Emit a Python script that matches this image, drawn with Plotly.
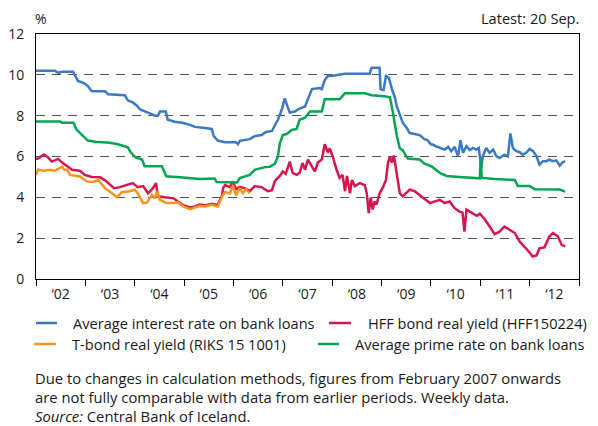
import plotly.graph_objects as go

# ---------------- data (decimal years, percent) ----------------
blue_x = [2002.00, 2002.38, 2002.45, 2002.53, 2002.75, 2002.85, 2002.97, 2003.05, 2003.13, 2003.40,
          2003.46, 2003.80, 2003.86, 2003.96, 2004.04, 2004.11, 2004.27, 2004.41, 2004.47, 2004.51,
          2004.63, 2004.67, 2004.81, 2004.96, 2005.12, 2005.22, 2005.42, 2005.56, 2005.60, 2005.68,
          2005.83, 2006.05, 2006.09, 2006.13, 2006.33, 2006.43, 2006.57, 2006.66, 2006.78, 2006.84,
          2006.90, 2006.98, 2007.04, 2007.08, 2007.14, 2007.24, 2007.34, 2007.45, 2007.51, 2007.59,
          2007.75, 2007.79, 2007.85, 2007.91, 2008.05, 2008.26, 2008.76, 2008.80, 2008.96, 2008.98,
          2009.04, 2009.09, 2009.15, 2009.21, 2009.27, 2009.31, 2009.37, 2009.43, 2009.51, 2009.57,
          2009.67, 2009.77, 2009.87, 2009.93, 2010.00, 2010.05, 2010.10, 2010.18, 2010.28, 2010.35,
          2010.41, 2010.48, 2010.55, 2010.60, 2010.65, 2010.72, 2010.79, 2010.85, 2010.92, 2010.97,
          2011.02, 2011.05, 2011.12, 2011.19, 2011.26, 2011.33, 2011.39, 2011.49, 2011.56, 2011.61,
          2011.66, 2011.73, 2011.80, 2011.86, 2011.93, 2012.00, 2012.07, 2012.14, 2012.20, 2012.27,
          2012.34, 2012.40, 2012.47, 2012.54, 2012.61, 2012.67, 2012.72]
blue_y = [10.2, 10.2, 10.1, 10.15, 10.15, 9.7, 9.6, 9.45, 9.2, 9.2,
          9.05, 9.0, 8.75, 8.65, 8.5, 8.3, 8.15, 8.0, 8.0, 8.2,
          8.2, 7.8, 7.7, 7.65, 7.55, 7.45, 7.4, 7.35, 7.0, 6.78,
          6.7, 6.7, 6.6, 6.77, 6.85, 7.0, 7.05, 7.2, 7.25, 7.5,
          7.8, 8.3, 8.85, 8.55, 8.15, 8.2, 8.35, 8.45, 8.8, 9.3,
          9.35, 9.3, 9.75, 9.93, 9.97, 10.05, 10.05, 10.35, 10.35, 9.3,
          9.25, 9.95, 9.85, 9.3, 8.9, 8.45, 8.05, 7.65, 7.4, 7.15,
          7.1, 7.05, 6.85, 6.8, 6.6, 6.58, 6.5, 6.42, 6.34, 6.47,
          6.26, 6.47, 6.01, 6.80, 6.18, 6.50, 6.31, 6.42, 6.34, 6.42,
          5.44, 6.01, 6.42, 6.18, 6.34, 6.01, 5.93, 6.09, 6.01, 7.13,
          6.42, 6.26, 6.21, 6.09, 6.18, 6.37, 6.26, 6.01, 5.60, 5.77,
          5.77, 5.85, 5.77, 5.81, 5.55, 5.72, 5.77]

hff_x = [2002.00, 2002.04, 2002.16, 2002.24, 2002.32, 2002.45, 2002.53, 2002.65, 2002.73, 2002.89,
         2002.99, 2003.13, 2003.30, 2003.42, 2003.58, 2003.70, 2003.86, 2003.96, 2004.06, 2004.17,
         2004.27, 2004.37, 2004.43, 2004.47, 2004.61, 2004.79, 2004.87, 2004.98, 2005.12, 2005.22,
         2005.32, 2005.42, 2005.56, 2005.68, 2005.77, 2005.79, 2005.83, 2005.93, 2005.99, 2006.05,
         2006.13, 2006.23, 2006.33, 2006.43, 2006.57, 2006.70, 2006.78, 2006.84, 2006.94, 2007.00,
         2007.06, 2007.14, 2007.20, 2007.28, 2007.34, 2007.40, 2007.45, 2007.51, 2007.59, 2007.65,
         2007.71, 2007.79, 2007.85, 2007.91, 2007.95, 2008.01, 2008.09, 2008.15, 2008.21, 2008.26,
         2008.30, 2008.36, 2008.40, 2008.46, 2008.56, 2008.66, 2008.70, 2008.74, 2008.78, 2008.82,
         2008.86, 2008.90, 2008.96, 2009.02, 2009.09, 2009.13, 2009.17, 2009.21, 2009.25, 2009.29,
         2009.33, 2009.37, 2009.43, 2009.57, 2009.67, 2009.77, 2009.87, 2009.98, 2010.08, 2010.18,
         2010.28, 2010.38, 2010.48, 2010.58, 2010.64, 2010.68, 2010.72, 2010.83, 2010.93, 2010.99,
         2011.09, 2011.19, 2011.29, 2011.39, 2011.49, 2011.60, 2011.70, 2011.80, 2011.90, 2012.00,
         2012.06, 2012.14, 2012.20, 2012.30, 2012.40, 2012.47, 2012.57, 2012.65, 2012.72]
hff_y = [5.88, 5.9, 6.1, 5.97, 5.75, 5.88, 5.7, 5.5, 5.35, 5.3,
         5.1, 5.0, 4.98, 4.8, 4.45, 4.5, 4.6, 4.7, 4.5, 4.55,
         4.2, 4.45, 4.7, 4.05, 4.0, 3.95, 3.8, 3.62, 3.5, 3.55,
         3.65, 3.6, 3.68, 3.62, 4.1, 4.45, 4.6, 4.5, 4.78, 4.4,
         4.5, 4.45, 4.3, 4.55, 4.5, 4.3, 4.35, 4.8, 5.05, 5.27,
         5.15, 5.75, 5.2, 5.1, 5.2, 5.68, 5.35, 5.85, 5.5, 5.27,
         5.7, 5.85, 6.6, 6.2, 6.4, 6.0, 5.35, 4.95, 5.1, 4.3,
         5.05, 4.2, 4.85, 4.55, 4.7, 4.6, 4.2, 3.23, 4.0, 3.4,
         3.8, 3.65, 4.2, 4.45, 4.85, 5.68, 6.0, 5.7, 6.05, 5.5,
         4.78, 4.2, 4.05, 4.38, 4.3, 4.12, 3.92, 3.72, 3.8, 3.88,
         3.72, 3.8, 3.47, 3.3, 3.25, 2.32, 3.4, 3.23, 3.1, 3.2,
         2.93, 2.57, 2.2, 2.32, 2.57, 2.4, 2.25, 1.83, 1.58, 1.3,
         1.1, 1.15, 1.5, 1.55, 2.08, 2.25, 2.1, 1.67, 1.6]

riks_x = [2002.00, 2002.04, 2002.16, 2002.28, 2002.38, 2002.53, 2002.57, 2002.63, 2002.69, 2002.79,
          2002.89, 2003.03, 2003.15, 2003.26, 2003.40, 2003.54, 2003.64, 2003.74, 2003.90, 2004.00,
          2004.06, 2004.17, 2004.25, 2004.35, 2004.41, 2004.45, 2004.51, 2004.57, 2004.65, 2004.79,
          2004.87, 2004.98, 2005.12, 2005.22, 2005.32, 2005.42, 2005.56, 2005.68, 2005.77, 2005.83,
          2005.93, 2005.99, 2006.05, 2006.13, 2006.19, 2006.25, 2006.33]
riks_y = [5.1, 5.35, 5.3, 5.35, 5.3, 5.5, 5.35, 5.35, 5.1, 5.05,
          5.02, 4.78, 4.75, 4.85, 4.45, 4.2, 4.0, 4.25, 4.3, 4.37,
          4.2, 3.72, 3.75, 4.12, 3.95, 4.3, 3.88, 3.8, 3.72, 3.72,
          3.75, 3.55, 3.42, 3.5, 3.58, 3.55, 3.63, 3.55, 4.05, 4.25,
          4.2, 4.6, 4.1, 4.45, 4.2, 4.4, 4.2]

prime_x = [2002.00, 2002.49, 2002.53, 2002.76, 2002.82, 2002.92, 2003.05, 2003.20, 2003.50, 2003.66,
           2003.78, 2003.86, 2003.92, 2004.02, 2004.15, 2004.20, 2004.55, 2004.64, 2004.91, 2005.02,
           2005.32, 2005.62, 2005.66, 2006.07, 2006.13, 2006.33, 2006.43, 2006.64, 2006.74, 2006.84,
           2006.90, 2006.94, 2007.00, 2007.08, 2007.18, 2007.28, 2007.34, 2007.45, 2007.55, 2007.79,
           2007.85, 2008.15, 2008.26, 2008.66, 2008.80, 2009.06, 2009.17, 2009.23, 2009.27, 2009.31,
           2009.37, 2009.43, 2009.53, 2009.77, 2009.87, 2010.02, 2010.18, 2010.32, 2010.58, 2010.99,
           2011.01, 2011.03, 2011.29, 2011.70, 2011.76, 2012.00, 2012.10, 2012.61, 2012.72]
prime_y = [7.72, 7.72, 7.65, 7.65, 7.32, 7.08, 6.78, 6.72, 6.67, 6.6,
           6.5, 6.45, 6.2, 5.95, 5.85, 5.52, 5.52, 5.03, 4.98, 4.95,
           4.9, 4.92, 4.75, 4.73, 4.95, 5.1, 5.35, 5.48, 5.5, 5.65,
           6.0, 6.65, 7.05, 7.1, 7.3, 7.35, 7.8, 7.9, 8.2, 8.2,
           8.8, 8.8, 9.1, 9.1, 9.0, 8.95, 8.9, 8.15, 7.5, 7.0,
           6.4, 6.3, 5.9, 5.85, 5.65, 5.5, 5.2, 5.05, 5.0, 4.93,
           5.9, 4.95, 4.9, 4.85, 4.55, 4.55, 4.4, 4.38, 4.28]

year_labels = ["‘02", "‘03", "‘04", "‘05", "‘06", "‘07", "‘08", "‘09", "‘10", "‘11", "‘12"]
y_ticks = [0, 2, 4, 6, 8, 10, 12]

series_names = ["Average interest rate on bank loans", "HFF bond real yield (HFF150224)",
                "T-bond real yield (RIKS 15 1001)", "Average prime rate on bank loans"]
series_x = [blue_x, hff_x, riks_x, prime_x]
series_y = [blue_y, hff_y, riks_y, prime_y]
series_colors = ["#3a79c4", "#d6164e", "#f7941d", "#00a651"]

FONT = "Open Sans"
TXT = "#1a1a1a"
# the page body has an 8px margin, so the figure starts at window pixel (8, 8)
OFF = 8
W, H = 598 - OFF, 426 - OFF
# plot area in window pixels: x 36..579, y 34..279
PX0, PX1, PY0, PY1 = 36, 579, 34, 279
L, R, T, B = PX0 - OFF, W - (PX1 - OFF), PY0 - OFF, H - (PY1 - OFF)
PW, PH = PX1 - PX0, PY1 - PY0


def px2x(px):
    return (px - PX0) / PW


def py2y(py):
    return (PY1 - py) / PH


fig = go.Figure()
for name, xs, ys, col in zip(series_names, series_x, series_y, series_colors):
    fig.add_trace(go.Scatter(x=xs, y=ys, mode="lines", name=name, showlegend=False,
                             line=dict(color=col, width=2.5)))

fig.update_layout(
    width=W, height=H,
    margin=dict(l=L, r=R, t=T, b=B, pad=0, autoexpand=False),
    paper_bgcolor="white", plot_bgcolor="white",
    font=dict(family=FONT, size=14, color=TXT),
    showlegend=False,
)

fig.update_xaxes(
    range=[2002, 2013], showline=True, linecolor="black", linewidth=1, mirror=True,
    tickmode="array", tickvals=[y + 0.5 for y in range(2002, 2013)], ticktext=year_labels,
    ticks="outside", ticklen=2, tickcolor="rgba(0,0,0,0)",
    tickfont=dict(size=14, color=TXT),
    showgrid=False, zeroline=False,
    minor=dict(tickmode="array", tickvals=list(range(2002, 2014)), ticks="outside",
               ticklen=6, tickcolor="black", tickwidth=1, showgrid=False),
)
fig.update_yaxes(
    range=[0, 12], showline=True, linecolor="black", linewidth=1, mirror=True,
    tickmode="array", tickvals=y_ticks, ticks="outside", ticklen=8,
    tickcolor="rgba(0,0,0,0)", tickfont=dict(size=14, color=TXT),
    showgrid=True, gridcolor="#555555", gridwidth=1.3, griddash="9px,7px", zeroline=False,
)

# legend (two rows, drawn as key lines + labels), window pixel positions
legend_layout = [  # (line x0, line x1, text x, row y)
    (36, 57, 71, 323),
    (329, 351, 366, 323),
    (34, 56, 70, 344),
    (318, 339, 353, 344),
]
for (x0, x1, tx, ry), name, col in zip(legend_layout, series_names, series_colors):
    fig.add_shape(type="line", xref="paper", yref="paper",
                  x0=px2x(x0), x1=px2x(x1), y0=py2y(ry), y1=py2y(ry),
                  line=dict(color=col, width=2.5))
    fig.add_annotation(text=name, xref="paper", yref="paper", x=px2x(tx), y=py2y(ry),
                       xanchor="left", yanchor="middle", showarrow=False,
                       font=dict(size=14.6, color=TXT))

note_text = ("Due to changes in calculation methods, figures from February 2007 onwards<br>"
             "are not fully comparable with data from earlier periods. Weekly data.")
fig.add_annotation(text=note_text, xref="paper", yref="paper", x=px2x(33), y=py2y(387),
                   xanchor="left", yanchor="middle", align="left", showarrow=False,
                   font=dict(size=14.8, color=TXT))
fig.add_annotation(text="<i>Source:</i> Central Bank of Iceland.", xref="paper", yref="paper",
                   x=px2x(33), y=py2y(416), xanchor="left", yanchor="middle", showarrow=False,
                   font=dict(size=14.8, color=TXT))

fig.add_annotation(text="%", xref="paper", yref="paper", x=px2x(33), y=py2y(18),
                   xanchor="left", yanchor="middle", showarrow=False, font=dict(size=14, color=TXT))
fig.add_annotation(text="Latest: 20 Sep.", xref="paper", yref="paper", x=px2x(581),
                   y=py2y(18), xanchor="right", yanchor="middle", showarrow=False,
                   font=dict(size=14.6, color=TXT))

fig.write_html("out.html")
